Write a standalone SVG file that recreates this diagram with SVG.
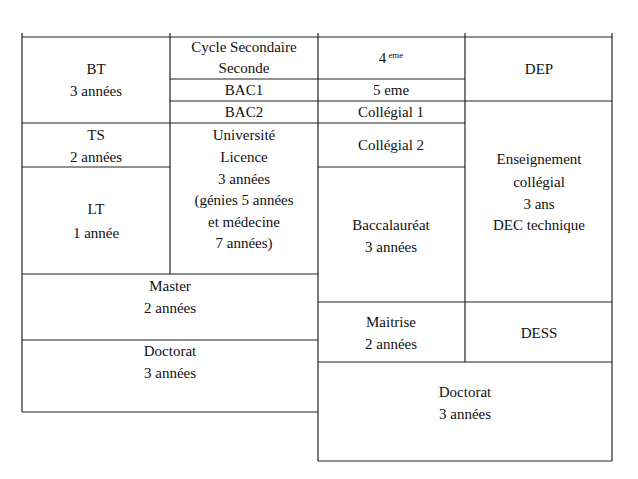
<svg xmlns="http://www.w3.org/2000/svg" width="638" height="479" viewBox="0 0 638 479" font-family="Liberation Serif, Times New Roman, serif" style="font-family:'Liberation Serif','Times New Roman',serif">
<style>
line{stroke:#222;stroke-width:1.2}
text{font-size:15px;fill:#111;text-anchor:middle}
</style>
<rect width="638" height="479" fill="#fff"/>
<g id="connectors">
<line x1="22" y1="37" x2="612" y2="37"/>
<line x1="22" y1="33" x2="22" y2="412"/>
<line x1="170" y1="33" x2="170" y2="274"/>
<line x1="318" y1="33" x2="318" y2="461"/>
<line x1="465" y1="33" x2="465" y2="362"/>
<line x1="612" y1="33" x2="612" y2="461"/>
<line x1="170" y1="79" x2="465" y2="79"/>
<line x1="170" y1="101" x2="612" y2="101"/>
<line x1="22" y1="123" x2="465" y2="123"/>
<line x1="22" y1="167" x2="170" y2="167"/>
<line x1="318" y1="167" x2="465" y2="167"/>
<line x1="22" y1="274" x2="318" y2="274"/>
<line x1="22" y1="340" x2="318" y2="340"/>
<line x1="22" y1="412" x2="318" y2="412"/>
<line x1="318" y1="302" x2="612" y2="302"/>
<line x1="318" y1="362" x2="612" y2="362"/>
<line x1="318" y1="461" x2="612" y2="461"/>
</g>
<g id="bt"><text x="96" y="74">BT</text><text x="96" y="96">3 années</text></g>
<g id="cycle"><text x="244" y="52">Cycle Secondaire</text><text x="244" y="73">Seconde</text></g>
<g id="bac1"><text x="244" y="95">BAC1</text></g>
<g id="bac2"><text x="244" y="117">BAC2</text></g>
<g id="eme4"><text x="391" y="63">4<tspan font-size="9" dy="-5"> eme</tspan></text></g>
<g id="eme5"><text x="391" y="95">5 eme</text></g>
<g id="dep"><text x="539" y="74">DEP</text></g>
<g id="col1"><text x="391" y="117">Collégial 1</text></g>
<g id="col2"><text x="391" y="150">Collégial 2</text></g>
<g id="ts"><text x="96" y="140">TS</text><text x="96" y="162">2 années</text></g>
<g id="univ"><text x="244" y="140">Université</text><text x="244" y="162">Licence</text><text x="244" y="184">3 années</text><text x="244" y="205">(génies 5 années</text><text x="244" y="227">et médecine</text><text x="244" y="248">7 années)</text></g>
<g id="lt"><text x="96" y="214">LT</text><text x="96" y="238">1 année</text></g>
<g id="ens"><text x="539" y="164">Enseignement</text><text x="539" y="187">collégial</text><text x="539" y="209">3 ans</text><text x="539" y="230">DEC technique</text></g>
<g id="bacc"><text x="391" y="230">Baccalauréat</text><text x="391" y="252">3 années</text></g>
<g id="master"><text x="170" y="291">Master</text><text x="170" y="313">2 années</text></g>
<g id="doc1"><text x="170" y="356">Doctorat</text><text x="170" y="378">3 années</text></g>
<g id="maitrise"><text x="391" y="327">Maitrise</text><text x="391" y="349">2 années</text></g>
<g id="dess"><text x="539" y="338">DESS</text></g>
<g id="doc2"><text x="465" y="397">Doctorat</text><text x="465" y="419">3 années</text></g>
</svg>
